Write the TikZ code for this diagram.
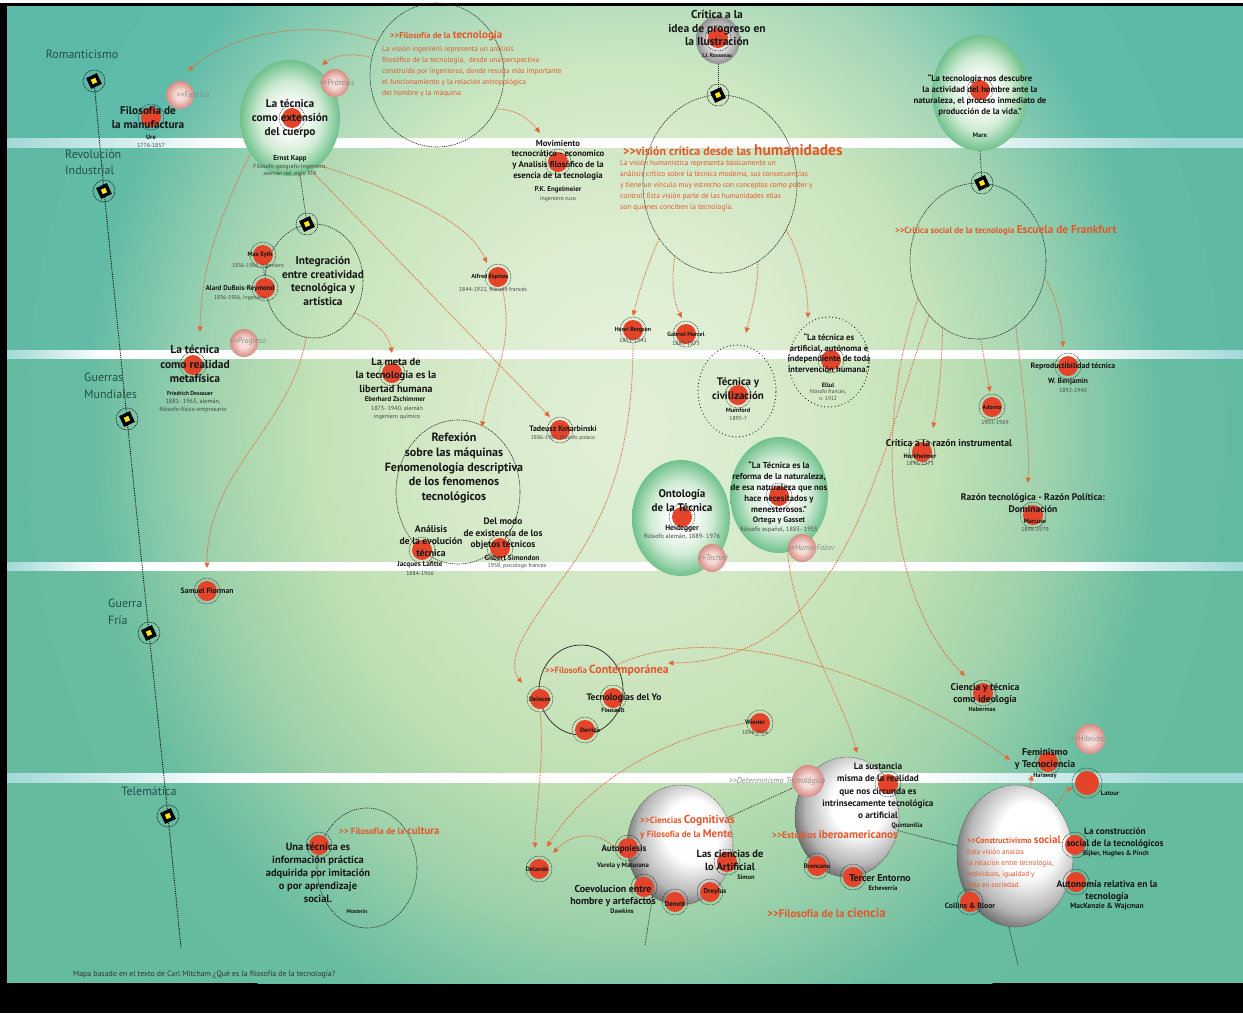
\documentclass[tikz,border=0pt]{standalone}
\usepackage{fontspec}
\setmainfont{PT Sans}
\usetikzlibrary{shapes.geometric,arrows.meta}
\definecolor{bgA}{HTML}{F0F7E8}
\definecolor{bgB}{HTML}{E3F1D8}
\definecolor{bgC}{HTML}{CDE7C2}
\definecolor{bgD}{HTML}{A3D6B7}
\definecolor{bgE}{HTML}{5FBBAA}
\definecolor{bgteal}{HTML}{5CB9A8}
\definecolor{bandg}{HTML}{8CC47A}
\definecolor{gbM}{HTML}{CFEBD3}
\definecolor{gbO}{HTML}{6FC18C}
\definecolor{pkA}{HTML}{F6DAD5}
\definecolor{pkO}{HTML}{D68C84}
\definecolor{grA}{HTML}{E6E6E6}
\definecolor{grO}{HTML}{8F8F8F}
\definecolor{pktxt}{HTML}{8A8A8A}
\definecolor{dotred}{HTML}{E4452A}
\definecolor{orng}{HTML}{E5572C}
\definecolor{oline}{HTML}{E2693C}
\definecolor{txt}{HTML}{161616}
\definecolor{erac}{HTML}{24504A}
\definecolor{stripe}{HTML}{A2D8D8}
\definecolor{mkyel}{HTML}{F7E51A}
\pgfdeclareradialshading{bgsh}{\pgfpointorigin}{color(0bp)=(bgA); color(7bp)=(bgB); color(13bp)=(bgC); color(17.5bp)=(bgD); color(22.5bp)=(bgE); color(50bp)=(bgE)}
\pgfdeclareradialshading{gballsh}{\pgfpointorigin}{color(0bp)=(white); color(6bp)=(white); color(16bp)=(gbM); color(25bp)=(gbO); color(50bp)=(gbO)}
\pgfdeclareradialshading{pballsh}{\pgfpointorigin}{color(0bp)=(pkA); color(9bp)=(pkA); color(25bp)=(pkO); color(50bp)=(pkO)}
\pgfdeclareradialshading{grballsh}{\pgfpointorigin}{color(0bp)=(grA); color(10bp)=(grA); color(25bp)=(grO); color(50bp)=(grO)}
\pgfdeclareradialshading{spheresh}{\pgfpoint{8bp}{8bp}}{color(0bp)=(white); color(13bp)=(white); color(24bp)=(black!28); color(33bp)=(black!75); color(50bp)=(black!90)}
\pgfdeclarehorizontalshading{stripeA}{100bp}{color(0bp)=(stripe); color(25bp)=(stripe); color(34bp)=(white); color(62bp)=(white); color(72bp)=(stripe); color(100bp)=(stripe)}
\pgfdeclarehorizontalshading{stripeB}{100bp}{color(0bp)=(stripe); color(25bp)=(stripe); color(29bp)=(white); color(68bp)=(white); color(75bp)=(stripe); color(100bp)=(stripe)}
\newcommand\twogt{>{}>}
\begin{document}
\begin{tikzpicture}[x=1pt,y=-1pt,
  lbl/.style={align=center, inner sep=0pt, text=txt},
  bf/.style 2 args={font=\bfseries\fontsize{#1}{#2}\selectfont},
  nm/.style={align=center, inner sep=0pt, text=txt, font=\bfseries\fontsize{7.2}{8}\selectfont},
  nms/.style={align=center, inner sep=0pt, text=txt, font=\bfseries\fontsize{#1}{8}\selectfont},
  dt/.style={align=center, inner sep=0pt, text=txt!80, font=\fontsize{5.8}{8}\selectfont},
  dts/.style={align=center, inner sep=0pt, text=txt!80, font=\fontsize{#1}{8}\selectfont},
  era/.style={font=\fontsize{12}{16.5}\selectfont, align=left, inner sep=0pt, text=erac},
  ohead/.style={font=\bfseries, text=orng, inner sep=0pt, anchor=west, align=left},
  para/.style={font=\fontsize{7.4}{11}\selectfont, text=orng, inner sep=0pt, anchor=west, align=left},
  pktext/.style={font=\fontsize{8}{9}\selectfont, text=pktxt, inner sep=0pt},
  pkit/.style={font=\itshape\fontsize{8}{9}\selectfont, text=pktxt, inner sep=0pt},
  gball/.style={ellipse, inner sep=0pt, shade, shading=gballsh},
  pbub/.style={circle, inner sep=0pt, minimum size=28pt, shade, shading=pballsh},
  wsph/.style={ellipse, inner sep=0pt, shade, shading=spheresh, draw=black!70, line width=0.5pt, dash pattern=on 1pt off 1pt},
  dcirc/.style={ellipse, inner sep=0pt, draw=black!85, line width=0.6pt, dash pattern=on 1.3pt off 0.9pt},
  lcirc/.style={ellipse, inner sep=0pt, draw=black!85, line width=1.2pt, dash pattern=on 0.1pt off 3.4pt, line cap=round},
  scirc/.style={ellipse, inner sep=0pt, draw=black!85, line width=0.7pt},
  rdot/.style={circle, inner sep=0pt, minimum size=26pt, draw=black!80, line width=0.5pt, dash pattern=on 1pt off 0.8pt, path picture={\fill[dotred] (path picture bounding box.center) circle[radius=10pt];}},
  rdotL/.style={circle, inner sep=0pt, minimum size=30pt, draw=black!80, line width=0.5pt, dash pattern=on 1pt off 0.8pt, path picture={\fill[dotred] (path picture bounding box.center) circle[radius=12pt];}},
  mk/.style={rectangle, inner sep=0pt, minimum size=8.5pt, fill=mkyel, draw=black, line width=3.4pt, rotate=25},
  mkring/.style={draw=black, line width=0.5pt, dash pattern=on 1pt off 0.8pt},
  tline/.style={draw=black, line width=0.9pt, dash pattern=on 1pt off 1.2pt},
  bline/.style={draw=black!85, line width=0.7pt, dash pattern=on 1pt off 1pt},
  oarr/.style={draw=oline, line width=0.9pt, dash pattern=on 1.2pt off 1.2pt, -{Triangle[length=5.5pt,width=5pt]}},
]
\useasboundingbox (0,0) rectangle (1243,1013);
\fill[white] (0,0) rectangle (1243,1013);
\fill[black] (0,3) rectangle (1243,1013);
\begin{scope}
  \clip (7,6) rectangle (1243,983);
  \fill[bgteal] (7,6) rectangle (1243,983);
  \shade[shading=bgsh] (625,430) ellipse [x radius=600, y radius=700];
  \fill[bandg, opacity=0.08] (7,147) rectangle (1243,350);
  \fill[bandg, opacity=0.14] (7,358) rectangle (1243,562);
  \fill[bandg, opacity=0.20] (7,570) rectangle (1243,773);
  \fill[bandg, opacity=0.20] (7,782) rectangle (1243,983);
  \shade[shading=stripeA] (7,138) rectangle (1243,147);
  \shade[shading=stripeB] (7,350) rectangle (1243,358);
  \shade[shading=stripeB] (7,562) rectangle (1243,570);
  \shade[shading=stripeA] (7,773) rectangle (1243,782);
\end{scope}

% balls and spheres
\node[gball, minimum width=100pt, minimum height=116pt] (g_kapp) at (290,118) {};
\node[gball, minimum width=96pt, minimum height=116pt] (g_marx) at (980,93) {};
\node[gball, minimum width=98pt, minimum height=116pt] (g_heid) at (681,518) {};
\node[gball, minimum width=98pt, minimum height=116pt] (g_ortega) at (779,495) {};
\node[ellipse, inner sep=0pt, shade, shading=grballsh, minimum width=44pt, minimum height=48pt] (g_rouss) at (718,40) {};
\node[wsph, minimum width=106pt, minimum height=120pt] (s_cog) at (680,845) {};
\node[wsph, minimum width=104pt, minimum height=120pt] (s_ibero) at (847,817) {};
\node[wsph, minimum width=116pt, minimum height=142pt] (s_constr) at (1015,856) {};

% circles
\node[dcirc, minimum width=134pt, minimum height=144pt] (c_tec) at (437,75) {};
\node[dcirc, minimum width=154pt, minimum height=178pt] (c_hum) at (720,184) {};
\node[dcirc, minimum width=136pt, minimum height=156pt] (c_frank) at (978,261) {};
\node[dcirc, minimum width=98pt, minimum height=114pt] (c_integ) at (314,281) {};
\node[dcirc, minimum width=124pt, minimum height=144pt] (c_refl) at (458,492) {};
\node[dcirc, minimum width=100pt, minimum height=120pt] (c_cult) at (367,868) {};
\node[lcirc, minimum width=78pt, minimum height=92pt] (c_mumf) at (737,391) {};
\node[lcirc, minimum width=80pt, minimum height=90pt] (c_ellul) at (829,362) {};
\node[scirc, minimum width=84pt, minimum height=90pt] (c_cont) at (581,690) {};

% pink bubbles
\node[pbub] (p_fab) at (180,95) {};
\node[pbub] (p_prot) at (335,83) {};
\node[pbub] (p_prog) at (244,343) {};
\node[pbub] (p_techne) at (712,558) {};
\node[pbub] (p_homo) at (802,548) {};
\node[pbub, minimum size=32pt] (p_det) at (808,781) {};
\node[pbub, minimum size=30pt] (p_hib) at (1090,739) {};

% timeline and markers
\coordinate (tend) at (181,948);
\coordinate (m1p) at (94,81);
\coordinate (m2p) at (104,191);
\coordinate (m3p) at (127,419);
\coordinate (m4p) at (149,633);
\coordinate (m5p) at (168,816);
\draw[tline] (m1p) -- (m2p) -- (m3p) -- (m4p) -- (m5p) -- (tend);
\node[mk] (m1) at (m1p) {};
\node[mk] (m2) at (m2p) {};
\node[mk] (m3) at (m3p) {};
\node[mk] (m4) at (m4p) {};
\node[mk] (m5) at (m5p) {};

% black dotted connectors
\draw[bline] (g_kapp.-80) -- (307,224) coordinate (m6p);
\draw[bline] (g_rouss.south) -- (718,95) coordinate (m7p);
\draw[bline] (g_marx.south) -- (982,183) coordinate (m8p);
\node[mk] (m6) at (m6p) {};
\node[mk] (m7) at (m7p) {};
\node[mk] (m8) at (m8p) {};
\foreach \m in {m1,m2,m3,m4,m5,m6,m7,m8} \draw[mkring] (\m.center) circle[radius=11pt];
\coordinate (bc1) at (645,945);
\coordinate (bc2) at (1018,965);
\draw[bline] (s_cog.30) -- (p_det);
\draw[bline] (s_cog.242) -- (bc1);
\draw[bline] (s_ibero.-15) -- (s_constr.170);
\draw[bline] (s_constr.-95) -- (bc2);

% red dots
\node[rdot] (d_ure) at (151,117) {};
\node[rdot] (d_kapp) at (292,118) {};
\node[rdot] (d_eyth) at (263,255) {};
\node[rdot] (d_dubois) at (265,288) {};
\node[rdot] (d_dess) at (193,365) {};
\node[rdot] (d_zsch) at (392,373) {};
\node[rdot] (d_esp) at (498,277) {};
\node[rdot] (d_engel) at (558,162) {};
\node[rdot] (d_flor) at (207,591) {};
\node[rdot] (d_lafitte) at (422,550) {};
\node[rdot] (d_simon) at (500,548) {};
\node[rdot] (d_kot) at (560,430) {};
\node[rdot] (d_rouss) at (718,38) {};
\node[rdot] (d_berg) at (633,330) {};
\node[rdot] (d_marcel) at (686,334) {};
\node[rdot] (d_mumf) at (738,395) {};
\node[rdot] (d_ellul) at (831,360) {};
\node[rdot] (d_heid) at (682,517) {};
\node[rdot] (d_ortega) at (779,496) {};
\node[rdot] (d_marx) at (980,90) {};
\node[rdot] (d_benj) at (1068,366) {};
\node[rdot] (d_adorno) at (992,407) {};
\node[rdot] (d_hork) at (922,452) {};
\node[rdot] (d_marc) at (1033,515) {};
\node[rdot] (d_hab) at (983,693) {};
\node[rdot] (d_har) at (1048,762) {};
\node[rdotL] (d_latour) at (1087,783) {};
\node[rdot] (d_bijker) at (1075,845) {};
\node[rdot] (d_mack) at (1076,882) {};
\node[rdot] (d_collins) at (970,902) {};
\node[rdot] (d_quint) at (888,784) {};
\node[rdot] (d_bronc) at (817,866) {};
\node[rdot] (d_echev) at (853,877) {};
\node[rdot] (d_simonH) at (727,862) {};
\node[rdot] (d_dreyfus) at (710,892) {};
\node[rdot] (d_dennett) at (675,902) {};
\node[rdot] (d_autop) at (628,848) {};
\node[rdot] (d_dawk) at (644,887) {};
\node[rdot] (d_deleuze) at (540,699) {};
\node[rdot] (d_fouc) at (613,698) {};
\node[rdot] (d_derrida) at (585,730) {};
\node[rdot] (d_delanda) at (539,869) {};
\node[rdot] (d_wiener) at (760,723) {};
\node[rdot] (d_most) at (319,845) {};
\draw[bline] (d_eyth) -- (d_dubois);

% orange connectors
\coordinate (e1) at (188,71);
\coordinate (e2) at (322,65);
\coordinate (e3) at (540,133);
\coordinate (e4) at (200,332);
\coordinate (e5) at (487,263);
\coordinate (e6) at (550,417);
\coordinate (e7) at (482,427);
\coordinate (e8) at (207,568);
\coordinate (e9) at (392,353);
\coordinate (e10) at (633,316);
\coordinate (e11) at (682,318);
\coordinate (e12) at (746,333);
\coordinate (e13) at (808,318);
\coordinate (e14) at (522,683);
\coordinate (e15) at (535,848);
\coordinate (e16) at (547,847);
\coordinate (e17) at (553,853);
\coordinate (e18) at (857,753);
\coordinate (e19) at (965,676);
\coordinate (e20) at (933,428);
\coordinate (e21) at (990,392);
\coordinate (e22) at (1028,483);
\coordinate (e23) at (1063,347);
\coordinate (e24) at (668,663);
\coordinate (e25) at (1010,760);
\coordinate (e27) at (1032,775);
\coordinate (e28) at (1073,788);
\draw[oarr] (c_tec.150) .. controls (305,16) and (228,36) .. (e1);
\draw[oarr] (c_tec.165) .. controls (350,52) and (333,56) .. (e2);
\draw[oarr] (c_tec.-30) .. controls (515,108) and (530,120) .. (e3);
\draw[oarr] (g_kapp.222) .. controls (215,225) and (201,275) .. (e4);
\draw[oarr] (g_kapp.-58) .. controls (400,192) and (468,220) .. (e5);
\draw[oarr] (g_kapp.-68) .. controls (400,262) and (480,345) .. (e6);
\draw[oarr] (d_esp.-70) .. controls (516,350) and (488,385) .. (e7);
\draw[oarr] (c_integ.262) .. controls (292,425) and (207,470) .. (e8);
\draw[oarr] (c_integ.-38) .. controls (372,320) and (388,332) .. (e9);
\draw[oarr] (c_hum.222) .. controls (646,268) and (638,295) .. (e10);
\draw[oarr] (c_hum.238) .. controls (670,290) and (676,306) .. (e11);
\draw[oarr] (c_hum.296) .. controls (758,292) and (750,315) .. (e12);
\draw[oarr] (c_hum.-35) .. controls (800,252) and (808,290) .. (e13);
\draw[oarr] (d_berg.south) .. controls (633,455) and (605,520) .. (565,575) .. controls (525,630) and (505,660) .. (e14);
\draw[oarr] (d_deleuze.south) .. controls (545,760) and (535,815) .. (e15);
\draw[oarr] (d_wiener.west) .. controls (660,738) and (585,785) .. (e16);
\draw[oarr] (d_autop.west) .. controls (598,830) and (572,833) .. (e17);
\draw[oarr] (p_homo.west) .. controls (790,620) and (840,690) .. (e18);
\draw[oarr] (c_frank.212) .. controls (872,430) and (888,600) .. (e19);
\draw[oarr] (c_frank.242) .. controls (942,370) and (938,400) .. (e20);
\draw[oarr] (c_frank.272) -- (e21);
\draw[oarr] (c_frank.300) .. controls (1022,380) and (1030,440) .. (e22);
\draw[oarr] (c_frank.-14) .. controls (1058,300) and (1062,325) .. (e23);
\draw[oarr] (c_frank.228) .. controls (880,450) and (850,662) .. (e24);
\draw[oarr] (c_cont.35) .. controls (720,615) and (900,680) .. (e25);
\draw[oarr] (s_constr.78) -- (e27);
\draw[oarr] (s_constr.50) .. controls (1062,796) and (1066,790) .. (e28);

% era labels
\node[era] (era1) at (82,54) {Romanticismo};
\node[era, anchor=west] (era2) at (65,162) {Revolución\\Industrial};
\node[era, anchor=west] (era3) at (84,386) {Guerras\\Mundiales};
\node[era, anchor=west] (era4) at (108,612) {Guerra\\Fría};
\node[era] (era5) at (149,791) {Telemática};

% pink labels
\node[pktext] (pk_fab) at (193,95) {\twogt Fabrica};
\node[pktext] (pk_prot) at (337,83) {\twogt Prótesis};
\node[pkit] (pk_prog) at (248,342) {\twogt Progreso};
\node[pkit] (pk_techne) at (713,558) {\twogt Techné};
\node[pkit] (pk_homo) at (811,548) {\twogt Homo Faber};
\node[pkit, font=\itshape\fontsize{8.3}{9}\selectfont] (pk_det) at (777,781) {\twogt Determinismo Tecnológico};
\node[pktext] (pk_hib) at (1087,739) {\twogt Híbrido};

% orange headers and paragraphs
\node[ohead] (h_tec) at (390,36) {{\fontsize{8.6}{10}\selectfont \twogt Filosofía de la }{\fontsize{11}{12}\selectfont tecnología}};
\node[para] (para1) at (382,72) {La visión ingenieril representa un análisis\\filosófico de la tecnología,\ \ desde una perspectiva\\construida por ingenieros, donde resulta más importante\\el funcionamiento y la relación antropológica\\del hombre y la máquina};
\node[ohead] (h_hum) at (623,150) {{\fontsize{12}{14}\selectfont \twogt visión crítica desde las }{\fontsize{15.5}{17}\selectfont humanidades}};
\node[para] (para2) at (620,186) {La visión humanistica representa básicamente un\\análisis crítico sobre la técnica moderna, sus consecuencias\\y tiene un vínculo muy estrecho con conceptos como poder y\\control. Esta visión parte de las humanidades ellas\\son quienes conciben la tecnología.};
\node[ohead] (h_frank) at (895,230) {{\fontsize{8.8}{10}\selectfont \twogt Crítica social de la tecnología }{\fontsize{11.4}{12}\selectfont Escuela de Frankfurt}};
\node[ohead] (h_cont) at (545,670) {{\fontsize{8.9}{10}\selectfont \twogt Filosofía }{\fontsize{11.8}{13}\selectfont Contemporánea}};
\node[ohead] (h_cult) at (339,831) {{\fontsize{9}{10}\selectfont \twogt{} Filosofía de la }{\fontsize{10.8}{12}\selectfont cultura}};
\node[ohead] (h_cog1) at (640,821) {{\fontsize{9.1}{10}\selectfont \twogt Ciencias }{\fontsize{11.5}{12}\selectfont Cognitivas}};
\node[ohead] (h_cog2) at (640,835) {{\fontsize{9}{10}\selectfont y Filosofía de la }{\fontsize{11}{12}\selectfont Mente}};
\node[ohead] (h_ibero) at (772,835) {{\fontsize{9.5}{10}\selectfont \twogt Estudios }{\fontsize{11.2}{12}\selectfont iberoamericanos}};
\node[ohead] (h_cien) at (767,913) {{\fontsize{11}{12}\selectfont \twogt Filosofía de la }{\fontsize{13}{14}\selectfont ciencia}};
\node[ohead] (h_constr) at (967,840) {{\fontsize{8.2}{10}\selectfont \twogt Constructivismo }{\fontsize{11}{13}\selectfont social}};
\node[para, font=\fontsize{7.2}{11}\selectfont] (para3) at (967,868.5) {Esta visión analiza\\la relación entre tecnología,\\individuos, igualdad y\\vida en sociedad.};

% black labels
\node[lbl, bf={11.3}{14}] (t_manuf) at (148,118) {Filosofía de\\la manufactura};
\node[nms=6.5] (n_ure) at (151,137) {Ure};
\node[dt] (dt_ure) at (151,145) {1776-1857};
\node[lbl, bf={11.3}{14}] (t_kapp) at (290,119) {La técnica\\como extensión\\del cuerpo};
\node[nm] (n_kapp) at (290,159) {Ernst Kapp};
\node[dt, font=\fontsize{6}{7.5}\selectfont] (dt_kapp) at (290,170.5) {Filósofo-geógrafo-ingeniero,\\alemán del siglo XIX};
\node[lbl, bf={11.3}{13.7}] (t_integ) at (323,281) {Integración\\entre creatividad\\tecnológica y\\artística};
\node[nms=6.3] (n_eyth) at (260,255) {Max Eyth};
\node[dts=5.6] (dt_eyth) at (258,266) {1836-1906, ingeniero};
\node[nms=7] (n_dubois) at (240,289) {Alard DuBois-Reymond};
\node[dts=5.6] (dt_dubois) at (240,298) {1836-1906, ingeniero};
\node[lbl, bf={11.5}{14.5}] (t_dess) at (195,364) {La técnica\\como realidad\\metafísica};
\node[nms=5.8] (n_dess) at (190,393) {Friedrich Dessauer};
\node[dt, font=\fontsize{6.2}{8}\selectfont] (dt_dess) at (193,406) {1881- 1963,\ alemán,\\filósofo-físico-empresario};
\node[lbl, bf={10.4}{13.5}] (t_meta) at (396,375) {La meta de\\la tecnología es la\\libertad humana};
\node[nms=6.9] (n_zsch) at (395,399) {Eberhard Zschimmer};
\node[dt, font=\fontsize{6}{8}\selectfont] (dt_zsch) at (397,413) {1873- 1940, alemán\\ingeniero químico};
\node[nms=6.1] (n_esp) at (490,277) {Alfred Espinas};
\node[dt] (dt_esp) at (493,290) {1844-1922, filósofo francés};
\node[lbl, bf={8.7}{10.7}] (t_movim) at (558,160) {Movimiento\\tecnocrático - economico\\y Analisis filosófico de la\\esencia de la tecnologia};
\node[nms=7] (n_engel) at (558,190) {P.K. Engelmeier};
\node[dt] (dt_engel) at (558,199) {ingeniero ruso};
\node[nms=7.6] (n_flor) at (207,591) {Samuel Florman};
\node[lbl, bf={12}{14.7}] (t_refl) at (454,468) {Refexión\\sobre las máquinas\\Fenomenología descriptiva\\de los fenomenos\\tecnológicos};
\node[lbl, bf={9.7}{12}] (t_anal) at (431,541) {Análisis\\de la evolución\\técnica};
\node[nm] (n_laf) at (420,565) {Jacques Lafitte};
\node[dt] (dt_laf) at (420,573) {1884-1966};
\node[lbl, bf={9.4}{11.5}] (t_modo) at (503,534) {Del modo\\de existencia de los\\objetos técnicos};
\node[nms=7.3] (n_simon) at (512,558) {Gilbert Simondon};
\node[dt] (dt_simon) at (517,566) {1958, psicologo francés};
\node[nms=7.9] (n_kot) at (563,429) {Tadeusz Kotarbinski};
\node[dts=5.6] (dt_kot) at (563,438) {1886-1981, filósofo polaco};
\node[lbl, bf={11.5}{13.5}] (t_rouss) at (717,28) {Crítica a la\\idea de progreso en\\la Ilustración};
\node[nms=5.5] (n_rouss) at (717,56) {J.J. Rousseau};
\node[nms=6] (n_berg) at (633,330) {Henri Bergson};
\node[dt] (dt_berg) at (633,340) {1859-1941};
\node[nms=6] (n_marcel) at (686,334) {Gabriel Marcel};
\node[dt] (dt_marcel) at (686,343) {1889-1973};
\node[lbl, bf={10.9}{14}] (t_mumf) at (738,389) {Técnica y\\civilización};
\node[nms=6.3] (n_mumf) at (738,410) {Mumford};
\node[dt] (dt_mumf) at (738,418) {1895-?};
\node[lbl, bf={8.6}{10.7}] (t_ellul) at (829,353) {“La técnica es\\artificial, autónoma e\\independiente de toda\\intervención humana.”};
\node[nms=6.3] (n_ellul) at (828,385) {Ellul};
\node[dt, font=\fontsize{5.4}{6.5}\selectfont] (dt_ellul) at (828,395) {filósofo francés,\\n. 1912};
\node[lbl, bf={11.1}{14}] (t_heid) at (682,501) {Ontología\\de la Técnica};
\node[nms=7.6] (n_heid) at (682,529) {Heidegger};
\node[dts=6.3] (dt_heid) at (682,537) {filósofo alemán, 1889- 1976};
\node[lbl, bf={8.7}{11}] (t_ortega) at (779,487) {“La Técnica es la\\reforma de la naturaleza,\\de esa naturaleza que nos\\hace necesitados y\\menesterosos.”};
\node[nms=7.8] (n_ortega) at (779,521) {Ortega y Gasset};
\node[dts=6.3] (dt_ortega) at (779,530) {filósofo español, 1883- 1955};
\node[lbl, bf={8.7}{11}] (t_marx) at (980,95.5) {“La tecnología nos descubre\\la actividad del hombre ante la\\naturaleza, el proceso inmediato de\\producción de la vida.”};
\node[nms=6.5] (n_marx) at (980,135) {Marx};
\node[lbl, bf={7.8}{8}] (t_repro) at (1073,366) {Reproductibilidad técnica};
\node[nms=7.5] (n_benj) at (1068,382) {W. Benjamin};
\node[dt] (dt_benj) at (1073,390) {1892-1940};
\node[nms=6] (n_adorno) at (992,407) {Adorno};
\node[dt] (dt_adorno) at (995,422) {1903-1969};
\node[lbl, bf={9.8}{10}] (t_razi) at (949,443) {Crítica a la razón instrumental};
\node[nms=6.5] (n_hork) at (920,456) {Horkheimer};
\node[dt] (dt_hork) at (920,463) {1895-1973};
\node[lbl, bf={9.6}{12}] (t_razp) at (1033,503) {Razón tecnológica - Razón Política:\\Dominación};
\node[nms=6.3] (n_marc) at (1035,521) {Marcuse};
\node[dt] (dt_marc) at (1035,529) {1898-1979};
\node[lbl, bf={9.7}{12}] (t_cyt) at (985,694) {Ciencia y técnica\\como ideología};
\node[nms=6.3] (n_hab) at (982,709) {Habermas};
\node[lbl, bf={9.8}{12}] (t_fem) at (1045,759) {Feminismo\\y Tecnociencia};
\node[nms=6.3] (n_har) at (1045,776) {Haraway};
\node[nms=6.5] (n_latour) at (1110,793) {Latour};
\node[lbl, bf={9.3}{12}] (t_constr) at (1115,838) {La construcción\\social de la tecnológicos};
\node[nms=6.7] (n_bijker) at (1116,854) {Bijker, Hughes \& Pinch};
\node[lbl, bf={9.6}{12}] (t_auton) at (1107,891) {Autonomía relativa en la\\tecnología};
\node[nms=7.5] (n_mack) at (1107,907) {MacKenzie \& Wajcman};
\node[nms=7.7] (n_collins) at (970,906) {Collins \& Bloor};
\node[lbl, bf={9.2}{12.3}] (t_sust) at (878,791) {La sustancia\\misma de la realidad\\que nos circunda es\\intrinsecamente tecnológica\\o artificial};
\node[nms=6.5] (n_quint) at (907,826) {Quintanilla};
\node[nms=6.5] (n_bronc) at (817,866) {Broncano};
\node[lbl, bf={9.9}{10}] (t_tercer) at (880,878) {Tercer Entorno};
\node[nms=6.5] (n_echev) at (883,888) {Echeverría};
\node[lbl, bf={10.5}{13}] (t_cienc) at (730,860) {Las ciencias de\\lo Artificial};
\node[nms=6.5] (n_simonH) at (746,877) {Simon};
\node[nms=7] (n_dreyfus) at (715,892) {Dreyfus};
\node[nms=7] (n_dennett) at (675,904) {Denett};
\node[lbl, bf={9}{10}] (t_autop) at (624,849) {Autopoiesis};
\node[nms=6.7] (n_varela) at (623,866) {Varela y Maturana};
\node[lbl, bf={10}{12}] (t_coev) at (613,896) {Coevolucion entre\\hombre y artefactos};
\node[nms=6.5] (n_dawk) at (622,911) {Dawkins};
\node[nms=6.3] (n_deleuze) at (540,699) {Deleuze};
\node[lbl, bf={9.5}{10}] (t_tecyo) at (624,698) {Tecnologías del Yo};
\node[nms=6.3] (n_fouc) at (613,710) {Foucault};
\node[nms=6.3] (n_derrida) at (590,730) {Derrida};
\node[nms=6.3] (n_delanda) at (537,869) {Delanda};
\node[nms=6.5] (n_wiener) at (755,722) {Wiener};
\node[dts=5.5] (dt_wiener) at (755,733) {1894-1964};
\node[lbl, bf={10.5}{13}] (t_most) at (318,873) {Una técnica es\\información práctica\\adquirida por imitación\\o por aprendizaje\\social.};
\node[nms=5.5] (n_most) at (357,912) {Mosterín};
\node[anchor=west, inner sep=0pt, text=black!80, font=\fontsize{7.8}{9}\selectfont] (foot) at (73,975) {Mapa basado en el texto de Carl Mitcham ¿Qué es la filosofía de la tecnología?};
\end{tikzpicture}
\end{document}
